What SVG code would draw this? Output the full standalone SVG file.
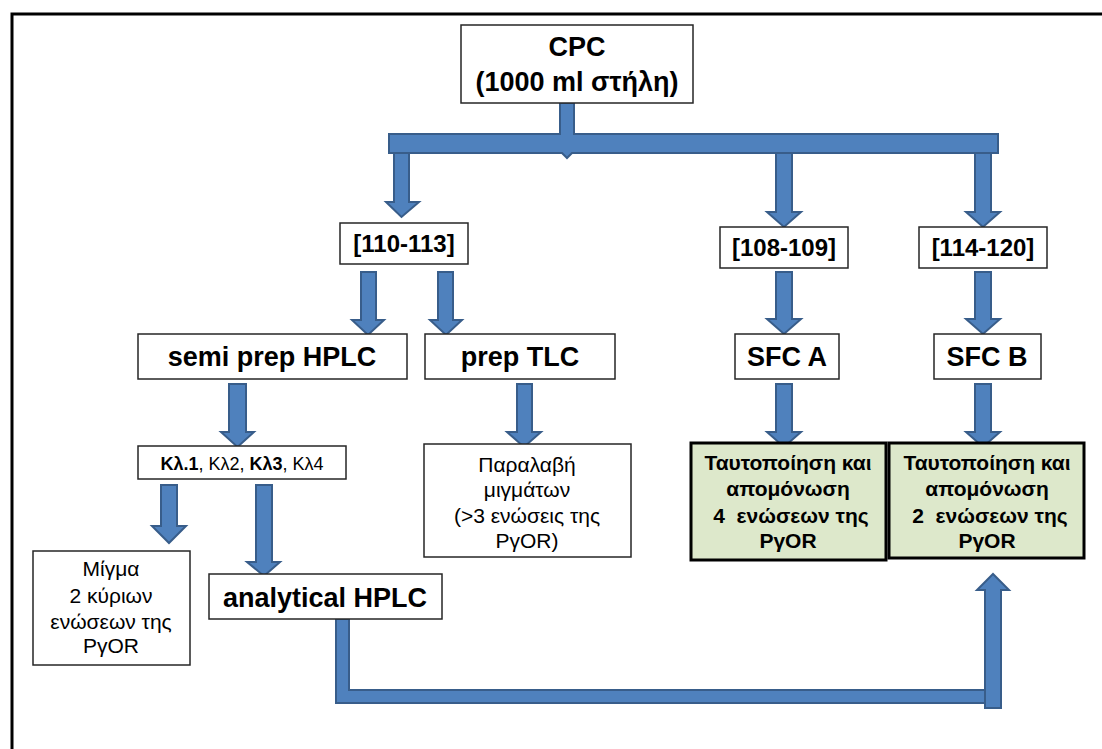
<svg xmlns="http://www.w3.org/2000/svg" width="1102" height="749" viewBox="0 0 1102 749">
  <style>
    .box { fill: #ffffff; stroke: #262626; stroke-width: 1.5; }
    .res { fill: #dde8cb; stroke: #000000; stroke-width: 3; }
    .arr { fill: #4f81bd; stroke: #385d8a; stroke-width: 2; stroke-linejoin: miter; }
    text { font-family: "Liberation Sans", Arial, sans-serif; fill: #000000; text-anchor: middle; }
    .b { font-weight: bold; }
    .pre { white-space: pre; }
    .big { font-size: 27px; font-weight: bold; }
    .frac { font-size: 24px; font-weight: bold; }
    .note { font-size: 21px; }
    .res-t { font-size: 21px; font-weight: bold; }
  </style>

  <rect width="1102" height="749" fill="#ffffff"/>
  <!-- outer frame, open to the right and bottom -->
  <rect x="12" y="14" width="1200" height="800" fill="none" stroke="#000000" stroke-width="3"/>

  <!-- connectors -->
  <g id="connectors">
    <!-- distribution bar under CPC -->
    <path class="arr" d="M560,103 H574 V134 H998 V153 H572 L567,158 L562,153 H389 V134 H560 Z"/>
    <!-- bar to fractions -->
    <path class="arr" d="M394,153 H409 V202 H419 L401.5,217 L386,202 H394 Z"/>
    <path class="arr" d="M776,153 H792 V212 H801 L784,227 L767,212 H776 Z"/>
    <path class="arr" d="M975,153 H991 V212 H1000 L983,227 L966,212 H975 Z"/>
    <!-- fraction 110-113 split -->
    <path class="arr" d="M361,272 H376 V320 H384 L368,335 L352,320 H361 Z"/>
    <path class="arr" d="M438,272 H453 V320 H462 L446,335 L430,320 H438 Z"/>
    <!-- fractions to SFC -->
    <path class="arr" d="M776,272 H792 V319 H801 L784,334 L767,319 H776 Z"/>
    <path class="arr" d="M975,272 H991 V319 H1000 L983,334 L966,319 H975 Z"/>
    <!-- second level -->
    <path class="arr" d="M229,384 H246 V432 H254 L237.5,447 L221,432 H229 Z"/>
    <path class="arr" d="M517,384 H532 V432 H541 L524,447 L507,432 H517 Z"/>
    <path class="arr" d="M776,384 H792 V432 H801 L784,447 L767,432 H776 Z"/>
    <path class="arr" d="M975,384 H991 V432 H1000 L983,447 L966,432 H975 Z"/>
    <!-- fractions Kl -->
    <path class="arr" d="M161,485 H177 V526 H186 L169,543 L152,526 H161 Z"/>
    <path class="arr" d="M256,485 H272 V562 H280 L264,576 L247,562 H256 Z"/>
    <!-- analytical HPLC return line -->
    <path class="arr" d="M336,619 H349 V690 H990 V703 H336 Z"/>
    <path class="arr" d="M985,708 V590 H977 L993,574 L1009,590 H1001 V708 Z"/>
  </g>

  <g id="cpc">
    <rect class="box" x="461" y="25" width="232" height="78"/>
    <text class="big" x="577" y="56">CPC</text>
    <text class="big" x="577" y="91">(1000 ml στήλη)</text>
  </g>

  <g id="f110">
    <rect class="box" x="340" y="223" width="128" height="41"/>
    <text class="frac" x="404" y="252">[110-113]</text>
  </g>
  <g id="f108">
    <rect class="box" x="720" y="227" width="128" height="41"/>
    <text class="frac" x="784" y="256">[108-109]</text>
  </g>
  <g id="f114">
    <rect class="box" x="919" y="227" width="128" height="41"/>
    <text class="frac" x="983" y="256">[114-120]</text>
  </g>

  <g id="semiprep">
    <rect class="box" x="138" y="334" width="269" height="45"/>
    <text class="big" x="272" y="366">semi prep HPLC</text>
  </g>
  <g id="preptlc">
    <rect class="box" x="425" y="334" width="190" height="45"/>
    <text class="big" x="520" y="366">prep TLC</text>
  </g>
  <g id="sfca">
    <rect class="box" x="735" y="334" width="104" height="45"/>
    <text class="big" x="787" y="366">SFC A</text>
  </g>
  <g id="sfcb">
    <rect class="box" x="934" y="334" width="107" height="45"/>
    <text class="big" x="987" y="366">SFC B</text>
  </g>

  <g id="fractions">
    <rect class="box" x="138" y="446" width="208" height="33"/>
    <text x="242" y="470" font-size="18"><tspan class="b">Κλ.1</tspan>, Κλ2, <tspan class="b">Κλ3</tspan>, Κλ4</text>
  </g>

  <g id="mixtures">
    <rect class="box" x="424" y="444" width="207" height="113"/>
    <text class="note" x="527" y="472">Παραλαβή</text>
    <text class="note" x="527" y="497">μιγμάτων</text>
    <text class="note" x="527" y="523">(&gt;3 ενώσεις της</text>
    <text class="note" x="527" y="548">PγOR)</text>
  </g>

  <g id="resulta">
    <rect class="res" x="691" y="443" width="195" height="117"/>
    <text class="res-t" x="788" y="470">Ταυτοποίηση και</text>
    <text class="res-t" x="788" y="496">απομόνωση</text>
    <text class="res-t pre" x="788" y="523"> 4  ενώσεων της</text>
    <text class="res-t" x="788" y="548">PγOR</text>
  </g>
  <g id="resultb">
    <rect class="res" x="889" y="443" width="195" height="115"/>
    <text class="res-t" x="987" y="470">Ταυτοποίηση και</text>
    <text class="res-t" x="987" y="496">απομόνωση</text>
    <text class="res-t pre" x="987" y="523"> 2  ενώσεων της</text>
    <text class="res-t" x="987" y="548">PγOR</text>
  </g>

  <g id="mix2">
    <rect class="box" x="33" y="551" width="157" height="114"/>
    <text class="note" x="111" y="576">Μίγμα</text>
    <text class="note" x="111" y="603">2 κύριων</text>
    <text class="note" x="111" y="629">ενώσεων της</text>
    <text class="note" x="111" y="653">PγOR</text>
  </g>

  <g id="analytical">
    <rect class="box" x="209" y="574" width="233" height="45"/>
    <text class="big" x="325" y="607">analytical HPLC</text>
  </g>
</svg>
